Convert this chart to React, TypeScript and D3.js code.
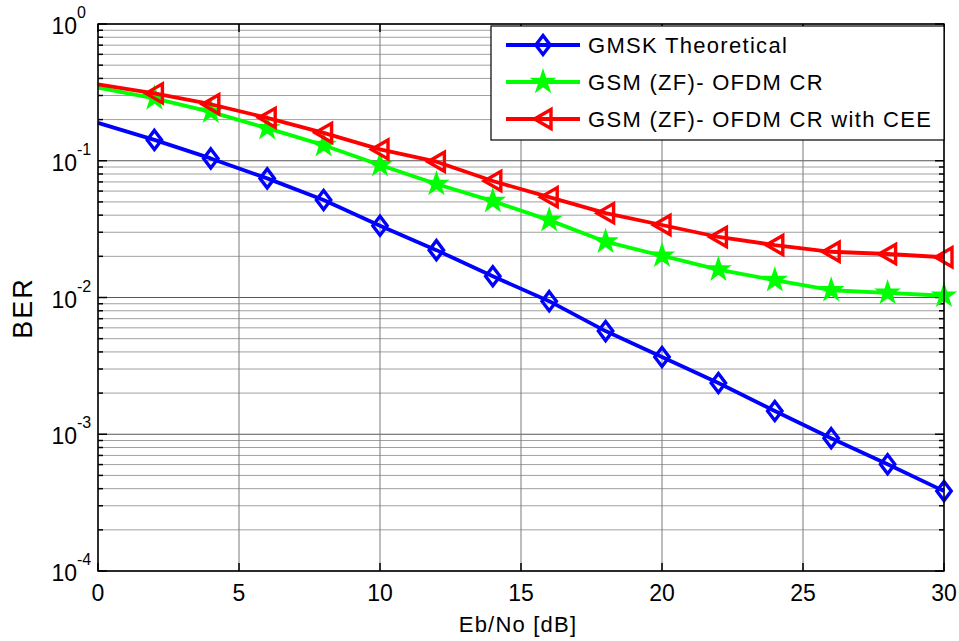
import React from 'react';
import * as d3 from 'd3';

// Eb/No sample points [dB]
const ebNo = [0, 2, 4, 6, 8, 10, 12, 14, 16, 18, 20, 22, 24, 26, 28, 30];

// BER
const gmskTheoretical = [0.189, 0.142, 0.104, 0.0743, 0.0516, 0.0335, 0.0222, 0.0143, 0.0094, 0.00568, 0.00367, 0.00237, 0.00148, 0.000936, 0.000604, 0.000384];
const gsmZf = [0.342, 0.286, 0.228, 0.173, 0.13, 0.093, 0.0676, 0.0507, 0.0368, 0.0256, 0.0202, 0.0160, 0.0134, 0.0113, 0.0108, 0.0103];
const gsmZfCee = [0.362, 0.311, 0.259, 0.206, 0.16, 0.121, 0.0984, 0.0711, 0.0542, 0.0414, 0.0339, 0.0277, 0.0242, 0.0216, 0.0208, 0.0197];

const xTicks = [0, 5, 10, 15, 20, 25, 30];
const yExponents = [0, -1, -2, -3, -4];
const legendLabels = ['GMSK Theoretical', 'GSM (ZF)- OFDM CR', 'GSM (ZF)- OFDM CR with CEE'];

const width = 959;
const height = 641;
const margin = { top: 24, right: 15, bottom: 70, left: 98 };
const font = 'Liberation Sans, Arial, Helvetica, sans-serif';

function Marker({ kind, color }: { kind: string; color: string }) {
  if (kind === 'diamond') {
    return <path d="M0,-9.5L7.2,0L0,9.5L-7.2,0Z" fill="none" stroke={color} strokeWidth={3.4} />;
  }
  if (kind === 'star') {
    const star = d3.symbol().type(d3.symbolStar).size(150)();
    return <path d={star || ''} fill={color} stroke={color} strokeWidth={1.5} />;
  }
  return <path d="M-8.5,0L8,-9.5L8,9.5Z" fill="none" stroke={color} strokeWidth={3.4} strokeLinejoin="miter" />;
}

export default function App() {
  const x = d3.scaleLinear().domain([0, 30]).range([margin.left, width - margin.right]);
  const y = d3.scaleLog().domain([1e-4, 1]).range([height - margin.bottom, margin.top]);

  const series = [
    { name: legendLabels[0], values: gmskTheoretical, color: '#0000ff', kind: 'diamond' },
    { name: legendLabels[1], values: gsmZf, color: '#00ff00', kind: 'star' },
    { name: legendLabels[2], values: gsmZfCee, color: '#ff0000', kind: 'triangle' },
  ];

  const line = d3
    .line<number>()
    .x((_, i) => x(ebNo[i]))
    .y((d) => y(d));

  const minorY: number[] = [];
  yExponents.slice(1).forEach((e) => {
    for (let k = 2; k <= 9; k++) minorY.push(k * Math.pow(10, e));
  });

  const x0 = x(0);
  const x1 = x(30);
  const y0 = y(1e-4);
  const y1 = y(1);

  return (
    <svg width={width} height={height} style={{ position: 'absolute', left: 0, top: 0, background: '#fff' }}>
      {/* grid */}
      <g stroke="#a0a0a0" strokeWidth={1}>
        {minorY.map((v, i) => (
          <line key={'gm' + i} x1={x0} x2={x1} y1={y(v)} y2={y(v)} />
        ))}
        {yExponents.map((e) => (
          <line key={'gy' + e} x1={x0} x2={x1} y1={y(Math.pow(10, e))} y2={y(Math.pow(10, e))} stroke="#555" />
        ))}
        {xTicks.map((t) => (
          <line key={'gx' + t} x1={x(t)} x2={x(t)} y1={y0} y2={y1} stroke="#7a7a7a" />
        ))}
      </g>

      {/* tick marks */}
      <g stroke="#000" strokeWidth={1.5}>
        {xTicks.map((t) => (
          <g key={'tx' + t}>
            <line x1={x(t)} x2={x(t)} y1={y0} y2={y0 - 8} />
            <line x1={x(t)} x2={x(t)} y1={y1} y2={y1 + 8} />
          </g>
        ))}
        {yExponents.map((e) => (
          <g key={'ty' + e}>
            <line x1={x0} x2={x0 + 9} y1={y(Math.pow(10, e))} y2={y(Math.pow(10, e))} />
            <line x1={x1} x2={x1 - 9} y1={y(Math.pow(10, e))} y2={y(Math.pow(10, e))} />
          </g>
        ))}
        {minorY.map((v, i) => (
          <g key={'tm' + i}>
            <line x1={x0} x2={x0 + 5} y1={y(v)} y2={y(v)} />
            <line x1={x1} x2={x1 - 5} y1={y(v)} y2={y(v)} />
          </g>
        ))}
      </g>

      {/* series */}
      {series.map((s) => (
        <g key={s.name}>
          <path d={line(s.values) || ''} fill="none" stroke={s.color} strokeWidth={3.8} strokeLinejoin="round" />
          {s.values.map((v, i) =>
            i === 0 ? null : (
              <g key={i} transform={`translate(${x(ebNo[i])},${y(v)})`}>
                <Marker kind={s.kind} color={s.color} />
              </g>
            )
          )}
        </g>
      ))}

      {/* axes box */}
      <rect x={x0} y={y1} width={x1 - x0} height={y0 - y1} fill="none" stroke="#000" strokeWidth={1.5} />

      {/* tick labels */}
      <g fontFamily={font} fill="#000">
        {xTicks.map((t) => (
          <text key={'lx' + t} x={x(t)} y={601} fontSize={23} textAnchor="middle">
            {t}
          </text>
        ))}
        {yExponents.map((e) => (
          <g key={'ly' + e}>
            <text x={77} y={y(Math.pow(10, e)) + 10} fontSize={23} textAnchor="end">
              10
            </text>
            <text x={77} y={y(Math.pow(10, e)) - 6} fontSize={16}>
              {e}
            </text>
          </g>
        ))}
        <text x={518} y={632} fontSize={22} textAnchor="middle" letterSpacing={1.2}>
          Eb/No [dB]
        </text>
        <text transform="translate(32,308) rotate(-90)" fontSize={27} textAnchor="middle" letterSpacing={2}>
          BER
        </text>
      </g>

      {/* legend */}
      <g>
        <rect x={491} y={26} width={453} height={114} fill="#fff" stroke="#000" strokeWidth={1.2} />
        {series.map((s, i) => {
          const ly = 45 + i * 37;
          return (
            <g key={'lg' + i}>
              <line x1={506} x2={580} y1={ly} y2={ly} stroke={s.color} strokeWidth={3.8} />
              <g transform={`translate(543,${ly})`}>
                <Marker kind={s.kind} color={s.color} />
              </g>
              <text x={588} y={ly + 8} fontFamily={font} fontSize={22} letterSpacing={1.3} fill="#000">
                {s.name}
              </text>
            </g>
          );
        })}
      </g>
    </svg>
  );
}
